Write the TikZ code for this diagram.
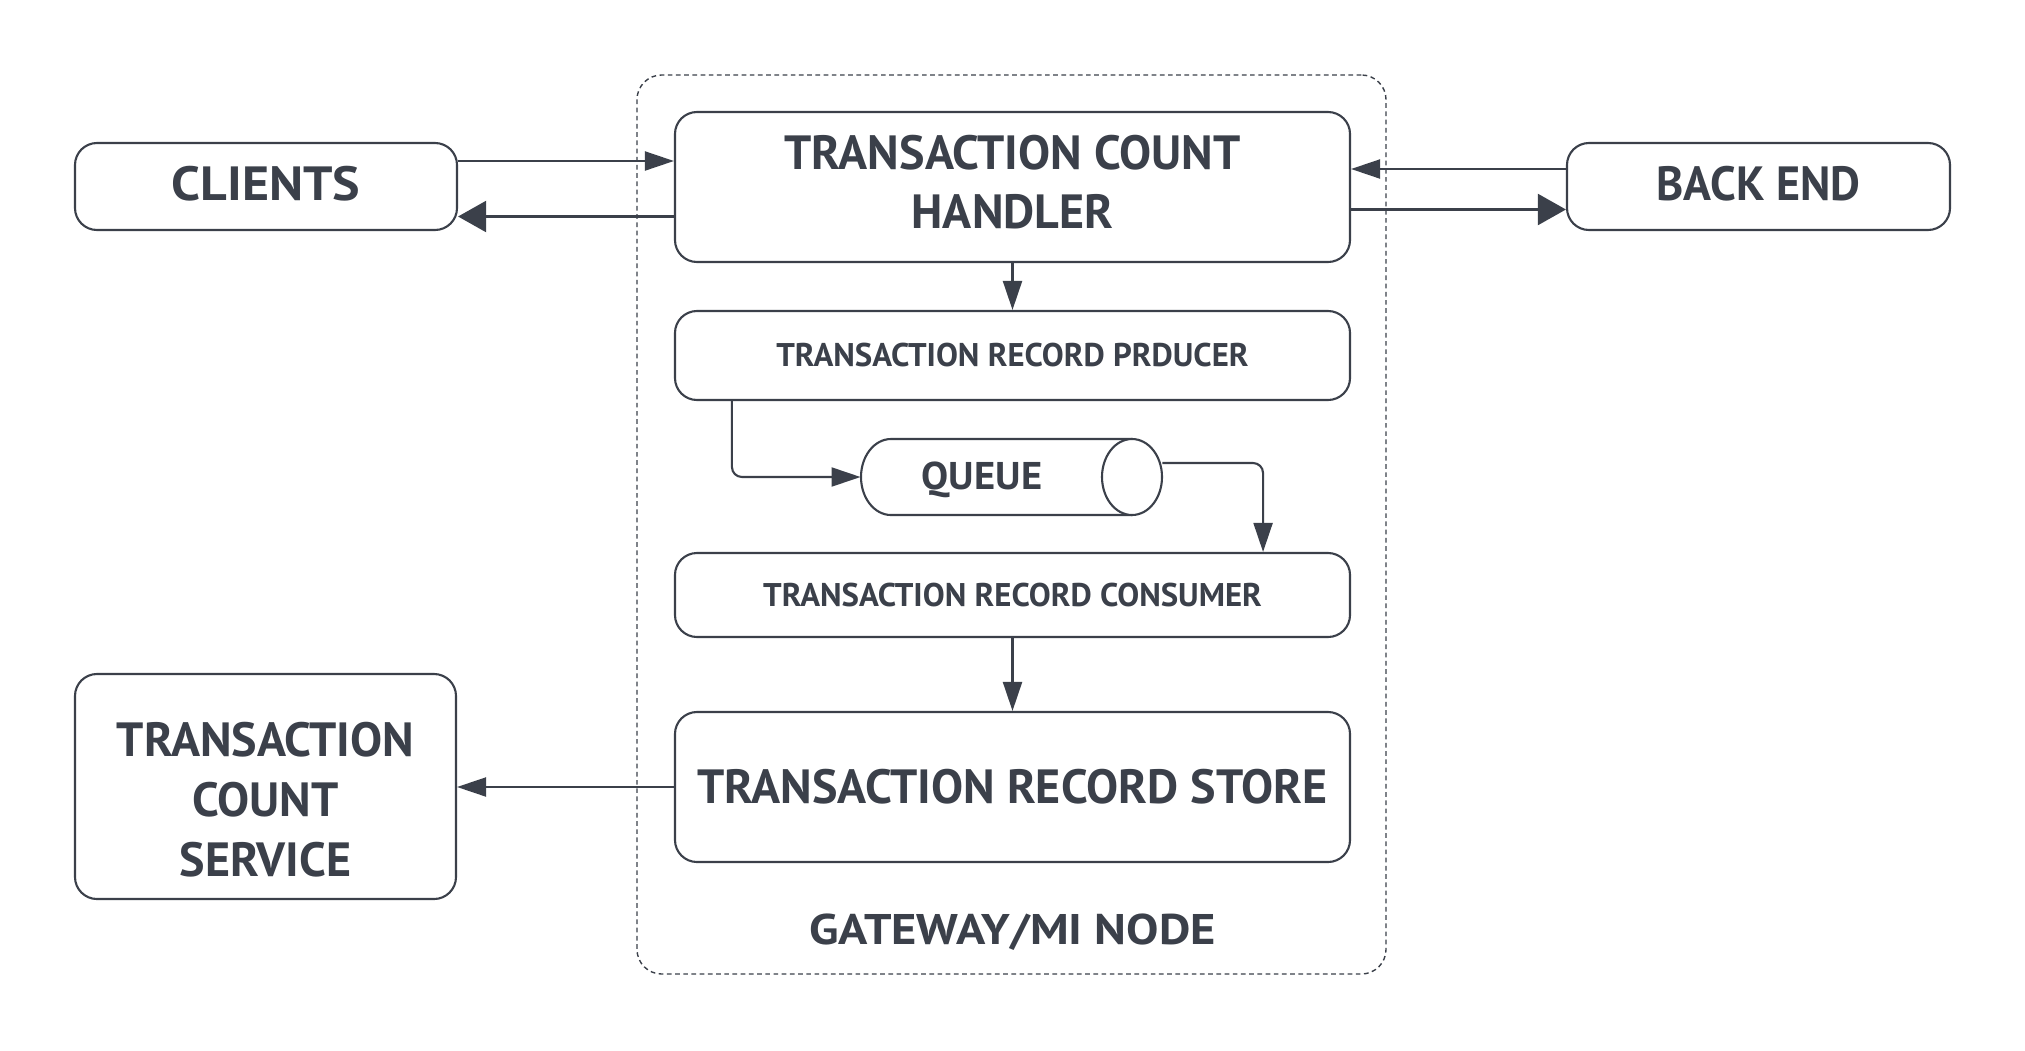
\documentclass[tikz,border=0pt]{standalone}
\usepackage{fontspec}
\setmainfont{PT Sans}
\usetikzlibrary{arrows.meta}
\definecolor{ink}{HTML}{3B404A}
\begin{document}
\begin{tikzpicture}[x=0.015cm,y=0.015cm,
  box/.style={draw=ink, line width=0.9pt, rounded corners=0.33cm, fill=white, text=ink, align=center, inner sep=0pt},
  arr/.style={draw=ink, line width=0.9pt, -{Triangle[length=0.435cm,width=0.285cm]}},
  bigarr/.style={draw=ink, line width=0.9pt, -{Triangle[length=0.42cm,width=0.465cm]}},
  big/.style={font=\bfseries\fontsize{20.5pt}{25.6pt}\selectfont},
  small/.style={font=\bfseries\fontsize{14pt}{17pt}\selectfont},
]
\useasboundingbox (0,0) rectangle (2025,-1050);
% container
\node[draw=ink, line width=0.6pt, dash pattern=on 2pt off 1.5pt, rounded corners=0.37cm,
      minimum width=11.235cm, minimum height=13.485cm, inner sep=0pt] (gw) at (1011.5,-524.5) {};
\node[text=ink, font=\bfseries\fontsize{18.3pt}{22pt}\selectfont\addfontfeatures{FakeStretch=1.13}, inner sep=0pt] (gwlabel) at (1012.5,-932) {GATEWAY/MI NODE};
% boxes
\node[box, font=\bfseries\fontsize{20.5pt}{25.6pt}\selectfont\addfontfeatures{FakeStretch=1.08}, minimum width=5.73cm, minimum height=1.305cm] (clients) at (266,-186.5) {\raisebox{0.04cm}[\height][\depth]{CLIENTS}};
\node[box, font=\bfseries\fontsize{20.5pt}{25.6pt}\selectfont\addfontfeatures{FakeStretch=0.96}, minimum width=5.745cm, minimum height=1.305cm] (backend) at (1758.5,-186.5) {\raisebox{0.04cm}[\height][\depth]{BACK END}};
\node[box, big, minimum width=10.125cm, minimum height=2.25cm] (handler) at (1012.5,-187) {\begin{tabular}{@{}c@{}}TRANSACTION COUNT\\HANDLER\end{tabular}};
\node[box, small, minimum width=10.125cm, minimum height=1.335cm] (producer) at (1012.5,-355.5) {TRANSACTION RECORD PRDUCER};
\node[box, small, minimum width=10.125cm, minimum height=1.26cm] (consumer) at (1012.5,-595) {TRANSACTION RECORD CONSUMER};
\node[box, big, minimum width=10.125cm, minimum height=2.25cm] (store) at (1012.5,-787) {TRANSACTION RECORD STORE};
\node[box, big, minimum width=5.715cm, minimum height=3.375cm] (service) at (265.5,-786.5) {\raisebox{-0.27cm}[\height][\depth]{\begin{tabular}{@{}c@{}}TRANSACTION\\COUNT\\SERVICE\end{tabular}}};
% queue (cylinder)
\node[minimum width=4.515cm, minimum height=1.14cm, inner sep=0pt] (queue) at (1011.5,-477) {};
\draw[ink, line width=0.9pt, fill=white] (1132,-439) -- (891,-439)
   arc[start angle=90, end angle=270, x radius=30, y radius=38] -- (1132,-515);
\draw[ink, line width=0.9pt, fill=white] (1132,-477) ellipse[x radius=30, y radius=38];
\node[text=ink, font=\bfseries\fontsize{16.5pt}{20pt}\selectfont\addfontfeatures{FakeStretch=1.05}, inner sep=0pt] (queuetext) at (982,-480) {QUEUE};
% connectors
\draw[arr] ([yshift=0.3825cm]clients.east) -- ([yshift=0.3825cm]clients.east -| handler.west);
\draw[bigarr] ([yshift=-0.4425cm]handler.west) -- ([yshift=-0.4425cm]handler.west -| clients.east);
\draw[arr] ([yshift=0.2625cm]backend.west) -- ([yshift=0.2625cm]backend.west -| handler.east);
\draw[bigarr] ([yshift=-0.3375cm]handler.east) -- ([yshift=-0.3375cm]handler.east -| backend.west);
\draw[arr] (handler.south) -- (producer.north);
\draw[arr, rounded corners=0.15cm] ([xshift=0.87cm]producer.south west) |- (queue.west);
\draw[arr, rounded corners=0.15cm] ([yshift=0.21cm]queue.east) -| ([xshift=-1.32cm]consumer.north east);
\draw[arr] (consumer.south) -- (store.north);
\draw[arr] (store.west) -- (store.west -| service.east);
\end{tikzpicture}
\end{document}
